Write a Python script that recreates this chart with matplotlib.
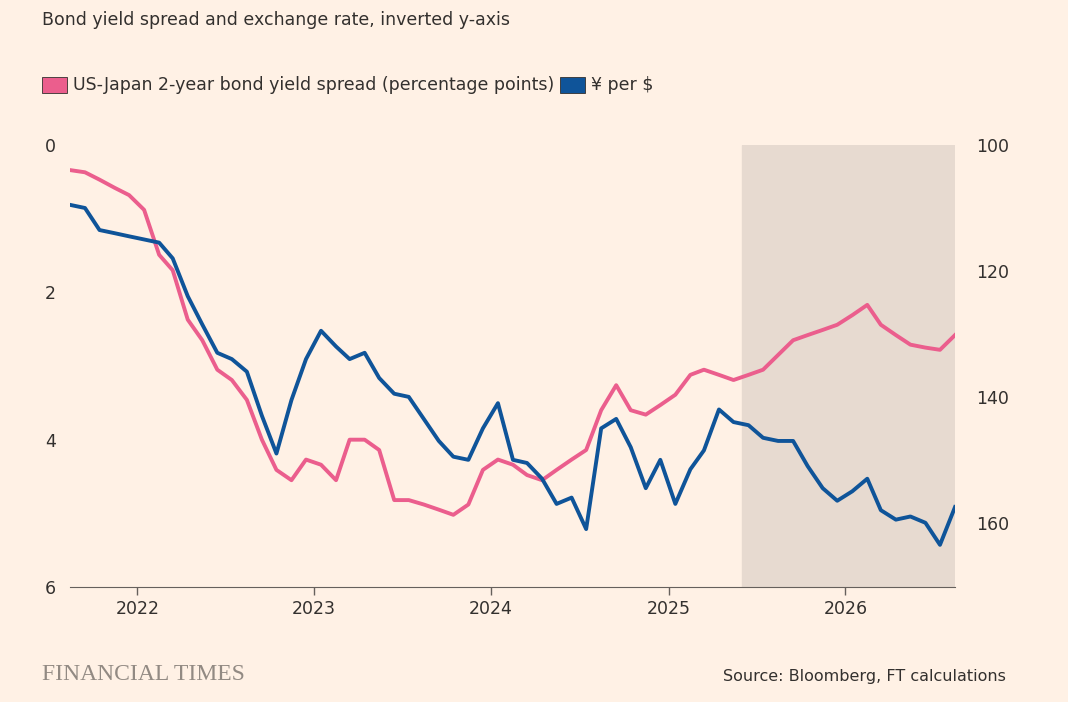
import matplotlib.pyplot as plt
import matplotlib.dates as mdates
import pandas as pd

dates = pd.date_range("2021-08-01", periods=61, freq="MS") + pd.Timedelta(days=14)

spread = [0.34, 0.37, 0.47, 0.58, 0.68, 0.88, 1.49, 1.70, 2.37, 2.65, 3.05, 3.19,
          3.46, 4.00, 4.41, 4.55, 4.27, 4.34, 4.55, 4.00, 4.00, 4.14, 4.82, 4.82,
          4.88, 4.95, 5.02, 4.88, 4.41, 4.27, 4.34, 4.48, 4.55, 4.41, 4.27, 4.14,
          3.60, 3.26, 3.60, 3.66, 3.53, 3.39, 3.12, 3.05, 3.12, 3.19, 3.12, 3.05,
          2.85, 2.65, 2.58, 2.51, 2.44, 2.31, 2.17, 2.44, 2.58, 2.71, 2.75, 2.78, 2.58]

yen = [109.5, 110.0, 113.5, 114.0, 114.5, 115.0, 115.5, 118.0, 124.0, 128.5, 133.0, 134.0,
       136.0, 143.0, 149.0, 140.5, 134.0, 129.5, 132.0, 134.0, 133.0, 137.0, 139.5, 140.0,
       143.5, 147.0, 149.5, 150.0, 145.0, 141.0, 150.0, 150.5, 153.0, 157.0, 156.0, 161.0,
       145.0, 143.5, 148.0, 154.5, 150.0, 157.0, 151.5, 148.5, 142.0, 144.0, 144.5, 146.5,
       147.0, 147.0, 151.0, 154.5, 156.5, 155.0, 153.0, 158.0, 159.5, 159.0, 160.0, 163.5, 157.5]

BG = "#FFF1E5"
PINK = "#EB5E8D"
BLUE = "#0F5499"
TXT = "#33302E"
GREY = "#66605C"

fig = plt.figure(figsize=(10.68, 7.02), dpi=100, facecolor=BG)
ax = fig.add_axes([0.0655, 0.1638, 0.8287, 0.6296], facecolor=BG)
ax2 = ax.twinx()

ax.axvspan(pd.Timestamp("2025-06-01"), pd.Timestamp("2026-08-20"), color="#E7DAD0", zorder=0)
ax.plot(dates, spread, color=PINK, lw=2.8, zorder=2)
ax2.plot(dates, yen, color=BLUE, lw=2.8, zorder=3)

ax.set_ylim(6, 0)
ax2.set_ylim(170.2, 100)
ax.set_yticks([0, 2, 4, 6])
ax2.set_yticks([100, 120, 140, 160])
ax.set_xlim(pd.Timestamp("2021-08-15"), pd.Timestamp("2026-08-15"))
ax.xaxis.set_major_locator(mdates.YearLocator())
ax.xaxis.set_major_formatter(mdates.DateFormatter("%Y"))

for a in (ax, ax2):
    for s in a.spines.values():
        s.set_visible(False)
ax.spines["bottom"].set_visible(True)
ax.spines["bottom"].set_color(GREY)
ax.tick_params(axis="x", colors=GREY, labelcolor=TXT, labelsize=12.5, length=6, width=1)
ax.tick_params(axis="y", length=0, labelsize=12.5, labelcolor=TXT, pad=10)
ax2.tick_params(axis="y", length=0, labelsize=12.5, labelcolor=TXT, pad=15)

fig.text(0.039, 0.972, "Bond yield spread and exchange rate, inverted y-axis",
         fontsize=12.5, color=TXT, va="center")
fig.patches.append(plt.Rectangle((0.039, 0.868), 0.024, 0.022, transform=fig.transFigure,
                                 facecolor=PINK, edgecolor=TXT, lw=0.6))
fig.text(0.068, 0.879, "US-Japan 2-year bond yield spread (percentage points)",
         fontsize=12.5, color=TXT, va="center")
fig.patches.append(plt.Rectangle((0.524, 0.868), 0.024, 0.022, transform=fig.transFigure,
                                 facecolor=BLUE, edgecolor=TXT, lw=0.6))
fig.text(0.553, 0.879, "¥ per $", fontsize=12.5, color=TXT, va="center")
fig.text(0.039, 0.039, "FINANCIAL TIMES", fontsize=17, color="#928A83",
         family="Liberation Serif", va="center")
fig.text(0.942, 0.037, "Source: Bloomberg, FT calculations", fontsize=11.5, color=TXT,
         ha="right", va="center")

fig.savefig("out.png", dpi=100, facecolor=BG)
